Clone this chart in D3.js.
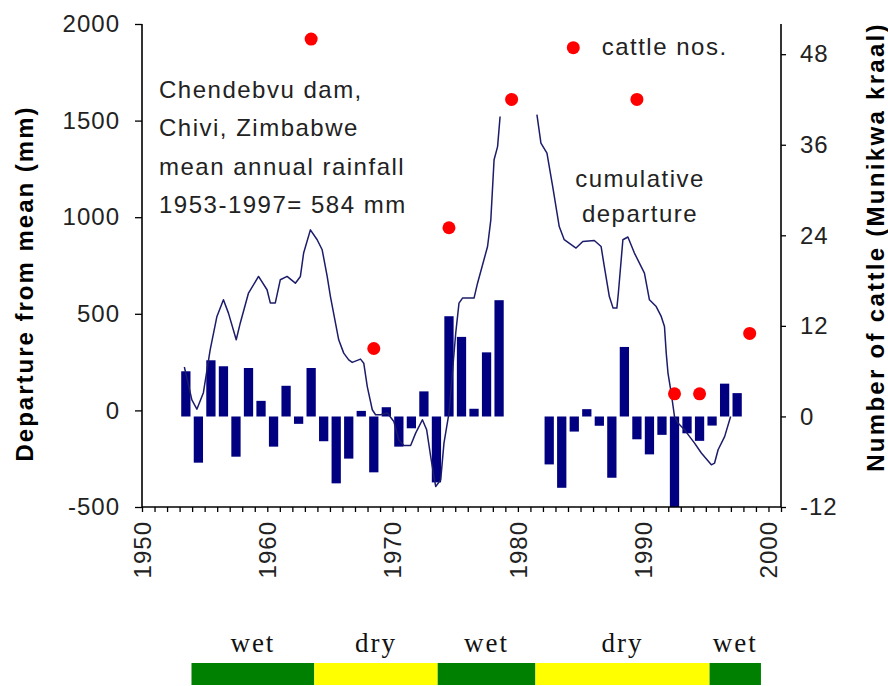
<!DOCTYPE html>
<html><head><meta charset="utf-8">
<script src="https://cdn.jsdelivr.net/npm/d3@7/dist/d3.min.js"></script>
<style>body{margin:0;background:#fff;} svg{display:block;}</style>
</head><body><svg id="c" width="888" height="686"></svg>
<script>
// ---- data ----
const barYears = [1953,1954,1955,1956,1957,1958,1959,1960,1961,1962,1963,1964,1965,1966,1967,1968,1969,1970,1971,1972,1973,1974,1975,1976,1977,1978,
                  1982,1983,1984,1985,1986,1987,1988,1989,1990,1991,1992,1993,1994,1995,1996,1997];
const barValues = [234,-239,291,260,-208,251,81,-156,159,-38,251,-128,-346,-218,29,-289,48,-156,-61,130,-341,519,412,40,332,602,
                   -248,-369,-78,38,-48,-317,360,-118,-196,-95,-470,-87,-126,-47,170,121];

const cumYears1 = [1953.38,1953.98,1954.38,1954.9,1955.44,1955.98,1956.5,1956.9,1957.52,1957.84,1958.5,1959.3,1959.98,1960.24,1960.64,1961.04,1961.58,1962.24,1962.64,1962.9,1963.44,1963.98,1964.38,1964.78,1965.04,1965.7,1966.1,1966.5,1966.78,1967.44,1967.7,1967.98,1968.38,1968.64,1969.04,1969.58,1970.1,1970.5,1970.9,1971.44,1971.84,1972.38,1972.72,1973.04,1973.3,1973.44,1973.84,1974.1,1974.5,1975.04,1975.3,1975.58,1976.5,1976.78,1977.58,1977.84,1978.1,1978.38,1978.58];
const cumValues1 = [256,86,38,123,345,518,604,535,397,483,639,725,656,588,588,708,725,690,725,846,966,915,863,725,621,397,328,293,280,297,276,155,35,9,9,18,-26,-121,-150,-150,-86,-17,-69,-207,-311,-362,-328,-138,18,432,587,613,613,690,880,1018,1329,1397,1553];
const cumYears2 = [1981.52,1981.84,1982.32,1982.78,1983.3,1983.7,1984.64,1985.18,1986.1,1986.64,1986.9,1987.3,1987.6,1987.9,1988.02,1988.38,1988.78,1989.3,1990.1,1990.5,1991.04,1991.44,1991.7,1991.84,1991.98,1992.24,1992.5,1992.78,1993.3,1994.1,1994.64,1995.44,1995.7,1995.98,1996.5,1996.98];
const cumValues2 = [1562,1415,1363,1190,983,915,872,906,911,880,776,621,561,561,639,915,929,846,742,604,569,518,466,328,225,121,0,-34,-69,-138,-189,-250,-241,-172,-104,0];

const cattleYears = [1963,1968,1974,1979,1989,1992,1994,1998];
const cattleValues = [50,9,25,42,42,3,3,11];

const leftTicks = [-500,0,500,1000,1500,2000];
const rightTicks = [-12,0,12,24,36,48];
const xLabelTicks = [1950,1960,1970,1980,1990,2000];

const seasonLabels = ["wet","dry","wet","dry","wet"];
const seasonStart = [1953.95,1963.75,1973.6,1981.4,1995.3];
const seasonEnd   = [1963.75,1973.6,1981.4,1995.3,1999.4];

// ---- scales ----
const x = d3.scaleLinear().domain([1950,2001]).range([142,781]);
const yLeft = d3.scaleLinear().domain([-500,2000]).range([507,24]);
const yRain = d3.scaleLinear().domain([-500,2000]).range([513.1,30.1]);
const yRight = d3.scaleLinear().domain([-12,52]).range([507,24]);

const svg = d3.select("#c");
const font = "'Liberation Sans', Arial, sans-serif";
const fmt = d => String(d);

svg.append("defs").append("clipPath").attr("id","plot")
  .append("rect").attr("x",x(1950)).attr("y",24).attr("width",x(2001)-x(1950)).attr("height",507-24);

// bars
const bw = (x(1)-x(0))*0.74;
svg.append("g").attr("clip-path","url(#plot)").selectAll("rect").data(barYears).join("rect")
  .attr("x",(d)=>x(d+0.5)-bw/2)
  .attr("width",bw)
  .attr("y",(d,i)=>yRain(Math.max(0,barValues[i])))
  .attr("height",(d,i)=>Math.abs(yRain(barValues[i])-yRain(0)))
  .attr("fill","#000080");

// cumulative line
const line = d3.line().x(d=>x(d[0])).y(d=>yRain(d[1])).curve(d3.curveLinear);
[[cumYears1,cumValues1],[cumYears2,cumValues2]].forEach(([ys,vs])=>{
  svg.append("path").datum(ys.map((yr,i)=>[yr,vs[i]]))
    .attr("d",line).attr("fill","none").attr("stroke","#1c1c6b").attr("stroke-width",1.5)
    .attr("stroke-linejoin","round");
});

// cattle dots
svg.append("g").selectAll("circle").data(cattleYears).join("circle")
  .attr("cx",d=>x(d+0.5)).attr("cy",(d,i)=>yRight(cattleValues[i]))
  .attr("r",6.5).attr("fill","#ff0000");

// axes
const axL = svg.append("g").attr("transform",`translate(${x(1950)},0)`)
  .call(d3.axisLeft(yLeft).tickValues(leftTicks).tickSize(7).tickPadding(15).tickFormat(fmt));
const axR = svg.append("g").attr("transform",`translate(${x(2001)},0)`)
  .call(d3.axisRight(yRight).tickValues(rightTicks).tickSize(5).tickPadding(14).tickFormat(fmt));
const axB = svg.append("g").attr("transform",`translate(0,${yLeft(-500)})`)
  .call(d3.axisBottom(x).tickValues(d3.range(1950,2002)).tickSize(5).tickFormat(""));
[axL,axR,axB].forEach(g=>{
  g.select(".domain").attr("stroke","#000").attr("stroke-width",1.6);
  g.selectAll(".tick line").attr("stroke","#000").attr("stroke-width",1.3);
  g.selectAll("text").attr("font-family",font).attr("font-size",24).attr("fill","#222").attr("letter-spacing",1);
});
axL.select(".domain").attr("d",`M0,${yLeft(2000)}V${yLeft(-500)}`);
axR.select(".domain").attr("d",`M0,${yRight(52)}V${yRight(-12)}`);
axB.select(".domain").attr("d",`M${x(1950)},0H${x(2001)}`);

// x tick labels rotated
svg.append("g").selectAll("text").data(xLabelTicks).join("text")
  .attr("transform",d=>`translate(${x(d)},521) rotate(-90)`)
  .attr("text-anchor","end").attr("dy","0.36em")
  .attr("font-family",font).attr("font-size",24).attr("letter-spacing",1).attr("fill","#222")
  .text(d=>d);

// axis titles
svg.append("text").attr("transform",`translate(33,${(105+462)/2}) rotate(-90)`)
  .attr("text-anchor","middle").attr("font-family",font).attr("font-weight","bold")
  .attr("font-size",24).attr("letter-spacing",2).attr("fill","#000")
  .text("Departure from mean (mm)");
svg.append("text").attr("transform",`translate(884,${(14+480)/2}) rotate(-90)`)
  .attr("text-anchor","middle").attr("font-family",font).attr("font-weight","bold")
  .attr("font-size",24).attr("letter-spacing",2.3).attr("fill","#000")
  .text("Number of cattle (Munikwa kraal)");

// annotations
const ann = ["Chendebvu dam,","Chivi, Zimbabwe","mean annual rainfall","1953-1997= 584 mm"];
svg.append("g").selectAll("text").data(ann).join("text")
  .attr("x",159).attr("y",(d,i)=>97.7+i*38.5)
  .attr("font-family",font).attr("font-size",24).attr("letter-spacing",1.5).attr("fill","#222")
  .text(d=>d);
svg.append("g").selectAll("text").data(["cumulative","departure"]).join("text")
  .attr("x",640).attr("y",(d,i)=>186.7+i*35.5).attr("text-anchor","middle")
  .attr("font-family",font).attr("font-size",24).attr("letter-spacing",1.5).attr("fill","#222")
  .text(d=>d);
// legend
svg.append("circle").attr("cx",573.3).attr("cy",47.7).attr("r",6.5).attr("fill","#ff0000");
svg.append("text").attr("x",601.7).attr("y",55).attr("font-family",font).attr("font-size",24)
  .attr("letter-spacing",1.5).attr("fill","#222").text("cattle nos.");

// wet/dry band
svg.append("g").selectAll("rect").data(seasonLabels).join("rect")
  .attr("x",(d,i)=>x(seasonStart[i])).attr("width",(d,i)=>x(seasonEnd[i])-x(seasonStart[i]))
  .attr("y",663).attr("height",22)
  .attr("fill",d=>d==="wet"?"#008000":"#ffff00");
svg.append("g").selectAll("text").data(seasonLabels).join("text")
  .attr("x",(d,i)=>(x(seasonStart[i])+x(seasonEnd[i]))/2).attr("y",652)
  .attr("text-anchor","middle").attr("font-family","'Liberation Serif', 'Times New Roman', serif")
  .attr("font-size",27).attr("letter-spacing",2).attr("fill","#111")
  .text(d=>d);
</script></body></html>
